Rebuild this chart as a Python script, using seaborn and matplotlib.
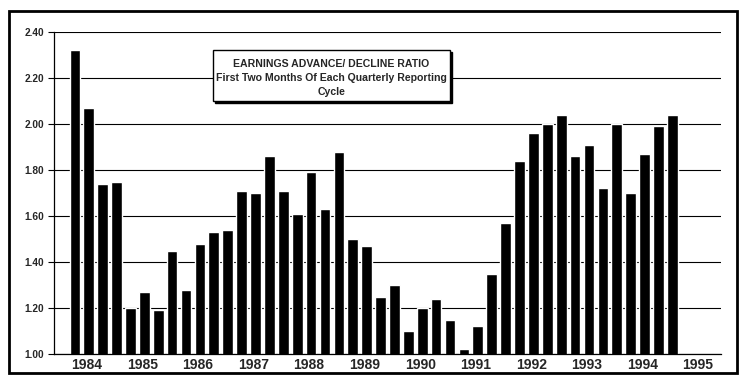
import numpy as np
import matplotlib
matplotlib.use('Agg')
import matplotlib.pyplot as plt
import seaborn as sns
from matplotlib.patches import Rectangle

# ==========================================
# DATA (4 bars per year)
# ==========================================
years = [str(y) for y in range(1984, 1996)]
ratio_1984_1989 = [2.32, 2.07, 1.74, 1.75,
                   1.20, 1.27, 1.19, 1.45,
                   1.28, 1.48, 1.53, 1.54,
                   1.71, 1.70, 1.86, 1.71,
                   1.61, 1.79, 1.63, 1.88,
                   1.50, 1.47, 1.25, 1.30]
ratio_1990_1994 = [1.10, 1.20, 1.24, 1.15,
                   1.02, 1.12, 1.35, 1.57,
                   1.84, 1.96, 2.00, 2.04,
                   1.86, 1.91, 1.72, 2.00,
                   1.70, 1.87, 1.99, 2.04]
ratio = ratio_1984_1989 + ratio_1990_1994
y_ticks = [1.00, 1.20, 1.40, 1.60, 1.80, 2.00, 2.20, 2.40]
title_lines = ["EARNINGS ADVANCE/ DECLINE RATIO",
               "First Two Months Of Each Quarterly Reporting",
               "Cycle"]

# bars sit one slot to the right of the year ticks in the original
slot = np.arange(1, len(ratio) + 1)

# ==========================================
# PLOT
# ==========================================
sns.set_style('white')
plt.rcParams['font.family'] = ['Liberation Sans', 'DejaVu Sans']

fig = plt.figure(figsize=(7.44, 3.83), dpi=100)
ax = fig.add_axes([0.0726, 0.0757, 0.8965, 0.8407])

sns.barplot(x=slot, y=ratio, native_scale=True, width=0.77,
            color='black', saturation=1, ax=ax)

ax.set_xlim(-0.5, 4 * len(years) - 0.5)
ax.set_ylim(1.0, 2.4)
ax.set_yticks(y_ticks)
ax.set_yticklabels([f"{v:.2f}" for v in y_ticks], fontsize=7.3, fontweight='bold')
ax.yaxis.grid(True, color='black', linewidth=0.8)
ax.set_axisbelow(True)

# year boundaries as major ticks, year names as minor ticks
ax.set_xticks([4 * i - 0.5 for i in range(len(years) + 1)])
ax.set_xticklabels([])
ax.set_xticks([4 * i + 1.85 for i in range(len(years))], minor=True)
ax.set_xticklabels(years, minor=True, fontsize=10, fontweight='bold')
ax.tick_params(axis='x', which='major', direction='inout', length=5, width=0.8, color='black')
ax.tick_params(axis='x', which='minor', length=0, pad=3)
ax.tick_params(axis='y', direction='out', length=4, width=0.8, color='black', pad=3, left=True)

ax.set_xlabel("")
ax.set_ylabel("")
for s in ['top', 'right']:
    ax.spines[s].set_visible(False)
for s in ['left', 'bottom']:
    ax.spines[s].set_color('black')
    ax.spines[s].set_linewidth(0.9)

# outer frame
fig.patches.append(Rectangle((0.0121, 0.0261), 0.9785, 0.9452, transform=fig.transFigure,
                             fill=False, edgecolor='black', linewidth=2.0, zorder=5))

# title box with shadow
bx, by, bw, bh = 0.2863, 0.7363, 0.3185, 0.1332
fig.patches.append(Rectangle((bx + 0.003, by - 0.006), bw, bh, transform=fig.transFigure,
                             facecolor='black', edgecolor='black', linewidth=1, zorder=3))
fig.patches.append(Rectangle((bx, by), bw, bh, transform=fig.transFigure,
                             facecolor='white', edgecolor='black', linewidth=1, zorder=4))
for txt, yy in zip(title_lines, [0.833, 0.796, 0.760]):
    fig.text(bx + bw / 2, yy, txt, ha='center', va='center', fontsize=7.6,
             fontweight='bold', zorder=6)

fig.savefig('out.png', dpi=100, facecolor='white')
